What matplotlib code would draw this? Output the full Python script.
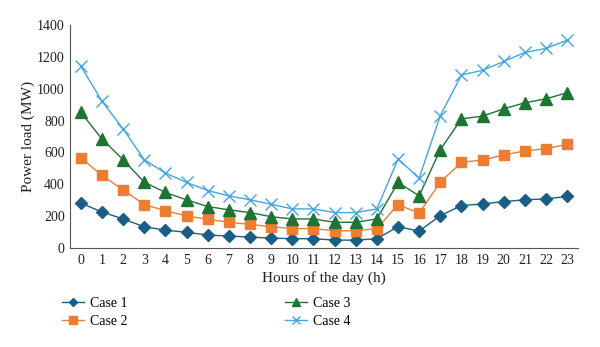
import matplotlib
matplotlib.use('Agg')
import matplotlib.pyplot as plt

plt.rcParams['font.family'] = ['Liberation Serif', 'DejaVu Serif']

hours = list(range(24))
case1 = [282, 227, 183, 134, 113, 99, 82, 76, 69, 63, 59, 59, 50, 50, 59, 134, 107, 204, 267, 277, 292, 303, 309, 324]
case2 = [567, 456, 366, 273, 235, 202, 181, 162, 149, 134, 122, 122, 109, 109, 122, 273, 219, 414, 538, 553, 584, 610, 624, 651]
case3 = [852, 685, 555, 414, 349, 303, 261, 240, 223, 197, 183, 183, 162, 162, 183, 412, 328, 618, 811, 828, 874, 912, 937, 975]
case4 = [1143, 922, 748, 555, 471, 412, 361, 328, 303, 275, 246, 246, 223, 223, 246, 559, 439, 832, 1086, 1116, 1171, 1228, 1253, 1305]

fig = plt.figure(figsize=(6, 3.47), dpi=100)
ax = fig.add_axes([0.117, 0.285, 0.846, 0.643])

ax.plot(hours, case1, color='#1B5E85', marker='D', markersize=6, linewidth=1, label='Case 1')
ax.plot(hours, case2, color='#ED7D31', marker='s', markersize=7, linewidth=1, label='Case 2')
ax.plot(hours, case3, color='#1D7433', marker='^', markersize=8, linewidth=1, label='Case 3')
ax.plot(hours, case4, color='#44A6E0', marker='x', markersize=8, markeredgewidth=1, linewidth=1, label='Case 4')

ax.set_xlim(-0.5, 23.5)
ax.set_ylim(0, 1400)
ax.set_xticks(hours)
ax.set_yticks(range(0, 1401, 200))
ax.tick_params(length=0, labelsize=10, colors='#222222', pad=4)

for s in ['top', 'right']:
    ax.spines[s].set_visible(False)
ax.spines['left'].set_color('#555555')
ax.spines['bottom'].set_color('#555555')

ax.set_xlabel('Hours of the day (h)', fontsize=11, color='#222222', labelpad=3)
ax.set_ylabel('Power load (MW)', fontsize=11, color='#222222', labelpad=1.5)

fig.legend(loc='upper left', bbox_to_anchor=(0.103, 0.145), ncol=2, frameon=False,
           fontsize=10, columnspacing=11.3, handlelength=1.6, handletextpad=0.45,
           labelspacing=0.35, markerscale=0.75, borderpad=0, borderaxespad=0)

fig.savefig('out.png', dpi=100)
